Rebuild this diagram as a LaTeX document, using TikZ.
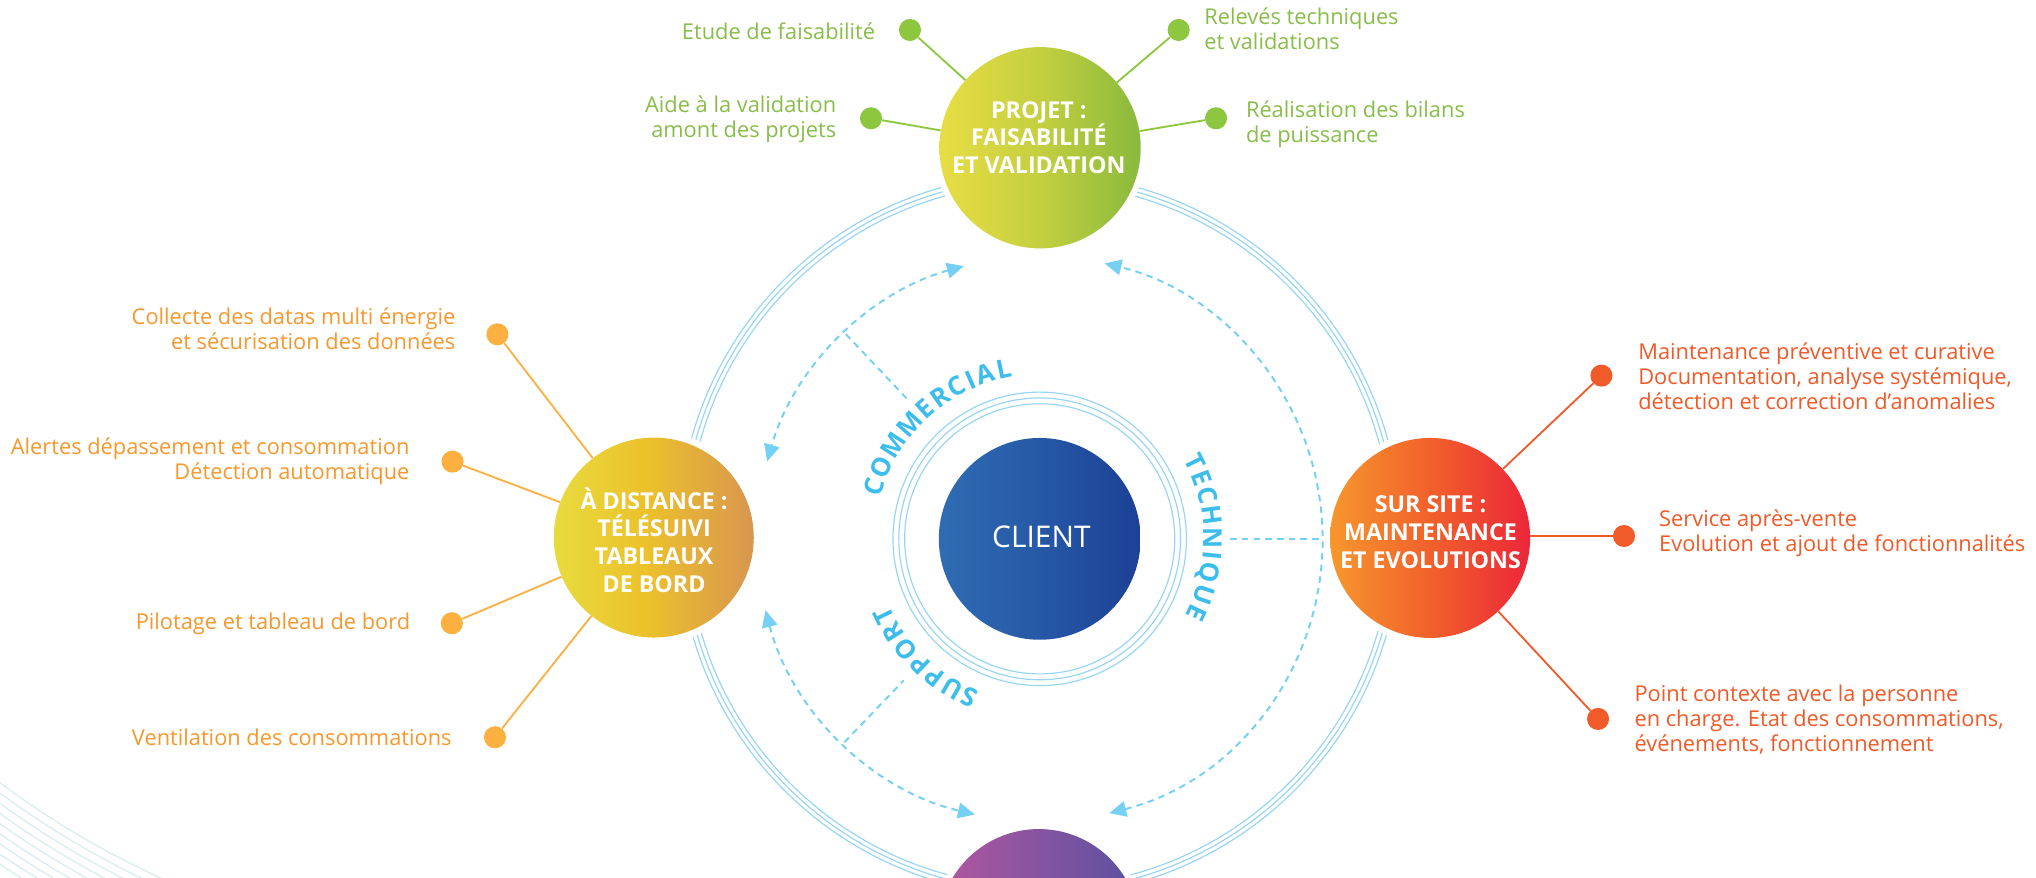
\documentclass[tikz,border=0pt]{standalone}
\usepackage{fontspec}
\setmainfont{Open Sans}
\usetikzlibrary{arrows.meta,calc}
\definecolor{ringblue}{RGB}{150,214,244}
\definecolor{dashblue}{RGB}{118,208,243}
\definecolor{txtblue}{RGB}{60,189,236}
\definecolor{faint}{RGB}{214,237,239}
\definecolor{gdotc}{RGB}{141,198,63}
\definecolor{gtxt}{RGB}{137,189,74}
\definecolor{odotc}{RGB}{251,176,64}
\definecolor{otxt}{RGB}{247,152,45}
\definecolor{rdotc}{RGB}{241,90,41}
\definecolor{rtxt}{RGB}{240,90,40}
\definecolor{pL}{RGB}{232,221,68}\definecolor{pM}{RGB}{196,207,63}\definecolor{pR}{RGB}{137,186,61}
\definecolor{dL}{RGB}{232,219,62}\definecolor{dM}{RGB}{236,193,42}\definecolor{dR}{RGB}{216,150,80}
\definecolor{sL}{RGB}{247,151,45}\definecolor{sM}{RGB}{241,92,43}\definecolor{sR}{RGB}{236,38,58}
\definecolor{kL}{RGB}{47,108,180}\definecolor{kM}{RGB}{38,88,166}\definecolor{kR}{RGB}{28,64,150}
\definecolor{bL}{RGB}{180,86,160}\definecolor{bM}{RGB}{134,84,160}\definecolor{bR}{RGB}{88,80,160}
\pgfdeclarehorizontalshading{shP}{100bp}{color(0bp)=(pL); color(25bp)=(pL); color(50bp)=(pM); color(75bp)=(pR); color(100bp)=(pR)}
\pgfdeclarehorizontalshading{shD}{100bp}{color(0bp)=(dL); color(25bp)=(dL); color(48bp)=(dM); color(75bp)=(dR); color(100bp)=(dR)}
\pgfdeclarehorizontalshading{shS}{100bp}{color(0bp)=(sL); color(25bp)=(sL); color(52bp)=(sM); color(75bp)=(sR); color(100bp)=(sR)}
\pgfdeclarehorizontalshading{shK}{100bp}{color(0bp)=(kL); color(25bp)=(kL); color(50bp)=(kM); color(75bp)=(kR); color(100bp)=(kR)}
\pgfdeclarehorizontalshading{shB}{100bp}{color(0bp)=(bL); color(25bp)=(bL); color(50bp)=(bM); color(75bp)=(bR); color(100bp)=(bR)}
\tikzset{
  sat/.style={circle, inner sep=0pt, minimum size=155pt, shade},
  nodetxt/.style={text=white, font=\bfseries\fontsize{17.9pt}{21.3pt}\selectfont, align=center, inner sep=0pt},
  lab/.style={font=\fontsize{16.8pt}{19.3pt}\selectfont, inner sep=0pt},
  glab/.style={lab, text=gtxt},
  olab/.style={lab, text=otxt},
  rlab/.style={lab, text=rtxt},
  gdot/.style={circle, fill=gdotc, inner sep=0pt, minimum size=17pt},
  odot/.style={circle, fill=odotc, inner sep=0pt, minimum size=17pt},
  rdot/.style={circle, fill=rdotc, inner sep=0pt, minimum size=17pt},
  gspoke/.style={draw=gdotc, line width=1.4pt},
  ospoke/.style={draw=odotc, line width=1.4pt},
  rspoke/.style={draw=rdotc, line width=1.4pt},
  ringline/.style={draw=ringblue, line width=0.9pt},
  dsh/.style={draw=dashblue, line width=1.5pt, dash pattern=on 5pt off 4pt},
  dtips/.style={arrows={Triangle[length=13pt,width=12pt]-Triangle[length=13pt,width=12pt]}},
  ctext/.style={text=txtblue, font=\bfseries\fontsize{20pt}{20pt}\selectfont, inner sep=0pt, anchor=base},
  faintline/.style={draw=faint, line width=0.9pt}
}
\begin{document}
\begin{tikzpicture}[x=1pt,y=1pt]
\useasboundingbox (0,0) rectangle (1568,676);
\clip (0,0) rectangle (1568,676);
\fill[white] (0,0) rectangle (1568,676);
% centres
\coordinate (O) at (800.7,261);
\coordinate (RC) at (800.5,264);
\coordinate (DC) at (800.5,261);
\coordinate (FC) at (398,603.5);
% faint background arcs
\foreach \k in {0,...,8}
  \draw[faintline] ($(FC)+(225:{663+6.4*\k})$) arc[start angle=225, end angle=262, radius={663+6.4*\k}];
% big ring
\foreach \r in {271,274.5,278}
  \draw[ringline] (RC) circle[radius=\r];
% inner ring
\foreach \r in {104,108.5,113}
  \draw[ringline] (O) circle[radius=\r];
% dashed arcs
\coordinate (a1) at ($(DC)+(105.5:218)$);
\coordinate (a2) at ($(DC)+(194.6:218)$);
\coordinate (a3) at ($(DC)+(-75.7:218)$);
\draw[dsh, dtips] (a1) arc[start angle=105.5, end angle=164.1, radius=218];
\draw[dsh, dtips] (a2) arc[start angle=194.6, end angle=256.8, radius=218];
\draw[dsh, dtips] (a3) arc[start angle=-75.7, end angle=76.7, radius=218];
\coordinate (j1) at ($(DC)+(133.4:217)$);
\coordinate (e1) at ($(DC)+(133.4:149)$);
\coordinate (j2) at ($(DC)+(226.2:217)$);
\coordinate (e2) at ($(DC)+(226.2:151)$);
\coordinate (j3) at ($(DC)+(0:218)$);
\coordinate (e3) at ($(DC)+(0:147)$);
\draw[dsh] (j1) -- (e1);
\draw[dsh] (j2) -- (e2);
\draw[dsh] (e3) -- (j3);
% curved words
\foreach \ch/\a [count=\i] in {C/162.7,O/155.7,M/147.43,M/138.55,E/131.25,R/125.11,C/118.67,I/113.56,A/108.19,L/101.96}
  \node[ctext, rotate=\a-90] (cm\i) at ($(O)+(\a:126.5)$) {\ch};
\foreach \ch/\a [count=\i] in {T/26.4,E/20.63,C/14.6,H/7.71,N/0.23,I/-5.5,Q/-11.31,U/-18.84,E/-25.38}
  \node[ctext, rotate=\a-90] (te\i) at ($(O)+(\a:126.5)$) {\ch};
\foreach \ch/\a [count=\i] in {S/245.95,U/239.62,P/232.82,P/226.41,O/219.44,R/212.47,T/206.44}
  \node[ctext, rotate=\a-90] (su\i) at ($(O)+(\a:126.5)$) {\ch};
% white halos
\fill[white] (801,562.2) circle[radius=82];
\fill[white] (503.5,262) circle[radius=82];
\fill[white] (1101.4,261.7) circle[radius=82];
\fill[white] (800,-40) circle[radius=82];
% satellite nodes
\node[sat, shading=shP] (P) at (801,562.2) {};
\node[sat, shading=shD, minimum size=154pt] (D) at (503.5,262) {};
\node[sat, shading=shS, minimum size=154pt] (S) at (1101.4,261.7) {};
\node[sat, shading=shB] (B) at (800,-40) {};
\node[sat, shading=shK, minimum size=155.4pt] (K) at (800.7,261) {};
\node[nodetxt] (Pt) at (800,570) {PROJET :\\FAISABILITÉ\\ET VALIDATION};
\node[nodetxt] (Dt) at (503.7,260.2) {À DISTANCE :\\TÉLÉSUIVI\\TABLEAUX\\DE BORD};
\node[nodetxt] (St) at (1101.7,266.1) {SUR SITE :\\MAINTENANCE\\ET EVOLUTIONS};
\node[text=white, font=\fontsize{23pt}{23pt}\selectfont, inner sep=0pt] (Kt) at (802,262.7) {CLIENT};
% green items
\node[gdot] (g1) at (700.8,652.9) {};
\node[gdot] (g2) at (670.8,584.9) {};
\node[gdot] (g3) at (907.7,652.9) {};
\node[gdot] (g4) at (936.5,584.9) {};
\draw[gspoke] (g1) -- (P);
\draw[gspoke] (g2) -- (P);
\draw[gspoke] (g3) -- (P);
\draw[gspoke] (g4) -- (P);
\node[glab, anchor=east] (t1) at (674.2,651.6) {Etude de faisabilité};
\node[glab, anchor=east, align=right] (t2) at (644.2,584.2) {Aide à la validation\\amont des projets};
\node[glab, anchor=west, align=left] (t3) at (927.3,653.5) {Relevés techniques\\et validations};
\node[glab, anchor=west, align=left] (t4) at (959.4,580.3) {Réalisation des bilans\\de puissance};
% orange items
\node[odot] (o1) at (383.1,418.5) {};
\node[odot] (o2) at (348.5,320.5) {};
\node[odot] (o3) at (348,196) {};
\node[odot] (o4) at (381.2,108.2) {};
\draw[ospoke] (o1) -- (D);
\draw[ospoke] (o2) -- (D);
\draw[ospoke] (o3) -- (D);
\draw[ospoke] (o4) -- (D);
\node[olab, anchor=east, align=right] (t5) at (350.9,422.5) {Collecte des datas multi énergie\\et sécurisation des données};
\node[olab, anchor=east, align=right] (t6) at (315.5,321.1) {Alertes dépassement et consommation\\Détection automatique};
\node[olab, anchor=east] (t7) at (316.1,195.4) {Pilotage et tableau de bord};
\node[olab, anchor=east] (t8) at (348,108.2) {Ventilation des consommations};
% red items
\node[rdot] (r1) at (1233.3,386.7) {};
\node[rdot] (r2) at (1250.7,263.2) {};
\node[rdot] (r3) at (1230.7,122.3) {};
\draw[rspoke] (r1) -- (S);
\draw[rspoke] (r2) -- (S.east |- r2);
\draw[rspoke] (r3) -- (S);
\node[rlab, anchor=west, align=left] (t9) at (1261.5,385.95) {Maintenance préventive et curative\\Documentation, analyse systémique,\\détection et correction d’anomalies};
\node[rlab, anchor=west, align=left] (t10) at (1277.6,265.5) {Service après-vente\\Evolution et ajout de fonctionnalités};
\node[rlab, anchor=west, align=left] (t11) at (1258.6,121.5) {Point contexte avec la personne\\en charge. Etat des consommations,\\événements, fonctionnement};
\end{tikzpicture}
\end{document}
